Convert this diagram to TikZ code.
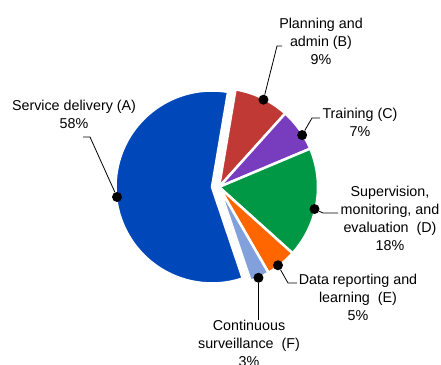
\documentclass[tikz,border=0pt]{standalone}
\usepackage{fontspec}
\setmainfont{Liberation Sans}
\usetikzlibrary{calc}
\definecolor{sliceA}{RGB}{0,72,186}
\definecolor{sliceB}{RGB}{192,57,52}
\definecolor{sliceC}{RGB}{120,60,190}
\definecolor{sliceD}{RGB}{0,152,68}
\definecolor{sliceE}{RGB}{255,102,0}
\definecolor{sliceF}{RGB}{130,160,220}
\tikzset{
    wedge/.style={draw=white,line width=2.5pt,line join=round},
    lbl/.style={align=center,inner sep=0pt,font=\fontsize{14.3}{18}\selectfont},
    leader/.style={line width=0.8pt},
    pin/.style={circle,fill=black,inner sep=0pt,minimum size=10pt}
}
\begin{document}
\begin{tikzpicture}[x=1pt,y=1pt]
        \useasboundingbox (0,0) rectangle (441,364);

        \coordinate (O) at (212,177);
        \coordinate (Q) at (219,177);

        \filldraw[wedge,fill=sliceA] (O) -- ($(O)+(80.4:96.5)$) arc[start angle=80.4,end angle=288.6,radius=96.5pt] -- cycle;
        \filldraw[wedge,fill=sliceB] (Q) -- ($(Q)+(80.4:99)$) arc[start angle=80.4,end angle=48,radius=99pt] -- cycle;
        \filldraw[wedge,fill=sliceC] (Q) -- ($(Q)+(48:99)$) arc[start angle=48,end angle=22.8,radius=99pt] -- cycle;
        \filldraw[wedge,fill=sliceD] (Q) -- ($(Q)+(22.8:99)$) arc[start angle=22.8,end angle=-42,radius=99pt] -- cycle;
        \filldraw[wedge,fill=sliceE] (Q) -- ($(Q)+(-42:99)$) arc[start angle=-42,end angle=-60,radius=99pt] -- cycle;
        \filldraw[wedge,fill=sliceF] (Q) -- ($(Q)+(-60:99)$) arc[start angle=-60,end angle=-71.4,radius=99pt] -- cycle;

        \node[lbl] (lA) at (74,250) {Service delivery (A)\\58\%};
        \node[lbl] (lB) at (321,323) {Planning and\\admin (B)\\9\%};
        \node[lbl] (lC) at (360,242) {Training (C)\\7\%};
        \node[lbl] (lD) at (390,146) {Supervision,\\monitoring, and\\evaluation\ \ (D)\\18\%};
        \node[lbl] (lE) at (358,67) {Data reporting and\\learning\ \ (E)\\5\%};
        \node[lbl] (lF) at (249,21) {Continuous\\surveillance\ \ (F)\\3\%};

        \node[pin] (dA) at ($(O)+(186:95.5)$) {};
        \node[pin] (dB) at ($(Q)+(63:98)$) {};
        \node[pin] (dC) at ($(Q)+(32:98)$) {};
        \node[pin] (dD) at ($(Q)+(-13:98)$) {};
        \node[pin] (dE) at ($(Q)+(-53:98)$) {};
        \node[pin] (dF) at ($(Q)+(-66.5:99)$) {};

        \draw[leader] (dA) -- (90,227) -- (83,227);
        \draw[leader] (dB) -- (277,318) -- (282,318);
        \draw[leader] (dC) -- (312,246) -- (320,246);
        \draw[leader] (dD) -- (323,151) -- (338,151);
        \draw[leader] (dE) -- (288,81) -- (297,81);
        \draw[leader] (dF) -- (dF |- lF.north);

    \end{tikzpicture}
\end{document}
